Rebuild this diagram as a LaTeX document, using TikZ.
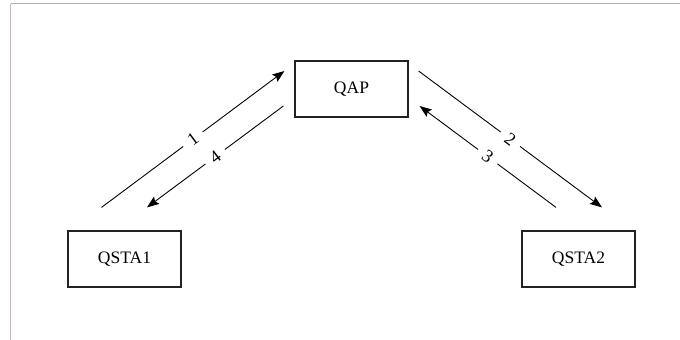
\documentclass[tikz,border=0pt]{standalone}
\usepackage{fontspec}
\setmainfont{Liberation Serif}
\usetikzlibrary{arrows.meta, calc, positioning}
\definecolor{framegray}{HTML}{B0B0B0}
\definecolor{framepink}{HTML}{C2B6B8}
\definecolor{boxline}{HTML}{222222}

\begin{document}
\begin{tikzpicture}[>={Stealth[length=12pt,width=9pt,inset=2pt]}, x=1pt, y=-1pt,
  station/.style={draw=boxline, line width=1.2pt, minimum width=113pt, minimum height=56pt,
    inner sep=0pt, font=\fontsize{17.5}{20}\selectfont},
  link/.style={->, line width=0.9pt, black},
  tag/.style={midway, sloped, fill=white, inner xsep=7.5pt, inner ysep=2pt,
    font=\fontsize{18}{20}\selectfont}]
  \useasboundingbox (0,0) rectangle (680,340);
  % frame
  \draw[framepink, line width=1.2pt] (10.5,340) -- (10.5,3.5);
  \draw[framegray, line width=1.2pt] (10.5,3.5) -- (680,3.5);
  % access point and stations
  \node[station] (ap) at (351.5,89) {QAP};
  \node[station] (sta1) at (124.5,259) {QSTA1};
  \node[station] (sta2) at (578.5,259) {QSTA2};
  % end points of the links
  \coordinate (up1) at ([shift={(-23,-23)}]sta1.north);
  \coordinate (dn1) at ([shift={(22.5,-23)}]sta1.north);
  \coordinate (up2) at ([shift={(-22.5,-23)}]sta2.north);
  \coordinate (dn2) at ([shift={(23.5,-23)}]sta2.north);
  \coordinate (apw1) at ([shift={(-10,-18)}]ap.west);
  \coordinate (apw2) at ([shift={(-11,17)}]ap.west);
  \coordinate (ape1) at ([shift={(10,-18)}]ap.east);
  \coordinate (ape2) at ([shift={(11,17)}]ap.east);
  % frames 1 and 4 between QSTA1 and QAP
  \draw[link] (up1) -- node[tag] {1} (apw1);
  \draw[link] (apw2) -- node[tag] {4} (dn1);
  % frames 2 and 3 between QAP and QSTA2
  \draw[link] (ape1) -- node[tag] {2} (dn2);
  \draw[link] (up2) -- node[tag] {3} (ape2);
\end{tikzpicture}
\end{document}
